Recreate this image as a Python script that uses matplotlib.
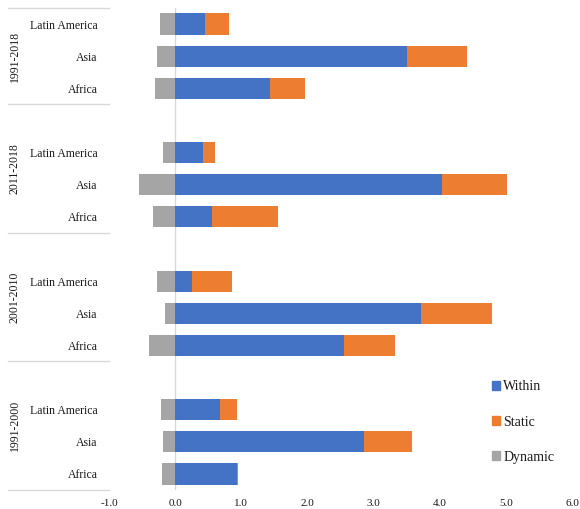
import matplotlib
matplotlib.use("Agg")
import matplotlib.pyplot as plt
import matplotlib.transforms as mtransforms
from matplotlib.patches import Patch
import numpy as np

plt.rcParams['font.family'] = ['Liberation Serif', 'DejaVu Serif']

periods = ["1991-2000", "2001-2010", "2011-2018", "1991-2018"]
regions = ["Africa", "Asia", "Latin America"]

# values per period, order: Africa, Asia, Latin America
within = {
    "1991-2000": [0.94, 2.86, 0.68],
    "2001-2010": [2.55, 3.71, 0.26],
    "2011-2018": [0.55, 4.03, 0.42],
    "1991-2018": [1.43, 3.51, 0.45],
}
static = {
    "1991-2000": [0.01, 0.72, 0.26],
    "2001-2010": [0.77, 1.08, 0.60],
    "2011-2018": [1.01, 0.99, 0.18],
    "1991-2018": [0.54, 0.91, 0.36],
}
dynamic = {
    "1991-2000": [-0.20, -0.19, -0.21],
    "2001-2010": [-0.39, -0.16, -0.28],
    "2011-2018": [-0.34, -0.54, -0.19],
    "1991-2018": [-0.31, -0.28, -0.23],
}
xticks = [-1, 0, 1, 2, 3, 4, 5, 6]

c_within = "#4472C4"
c_static = "#ED7D31"
c_dynamic = "#A5A5A5"
txt_color = "#1a1a1a"

W, H = 580, 509
fig = plt.figure(figsize=(W / 100, H / 100), dpi=100)
ax = fig.add_axes([109 / W, 19 / H, 463 / W, 482 / H])

ypos, labels, w_vals, s_vals, d_vals = [], [], [], [], []
group_spans = []
row = 0
for gi, p in enumerate(periods):
    start = row
    for ri, r in enumerate(regions):
        ypos.append(row)
        labels.append(r)
        w_vals.append(within[p][ri])
        s_vals.append(static[p][ri])
        d_vals.append(dynamic[p][ri])
        row += 1
    if gi < len(periods) - 1:
        row += 1  # blank gap row above group
    group_spans.append((start - 0.5, row - 0.5))

ypos = np.array(ypos)
w_vals = np.array(w_vals)
s_vals = np.array(s_vals)
d_vals = np.array(d_vals)
bh = 0.66

ax.barh(ypos, w_vals, height=bh, color=c_within, label="Within", zorder=2)
ax.barh(ypos, s_vals, left=w_vals, height=bh, color=c_static, label="Static", zorder=2)
ax.barh(ypos, d_vals, height=bh, color=c_dynamic, label="Dynamic", zorder=2)

ax.set_xlim(-1, 6)
ax.set_ylim(-0.5, 14.5)
ax.set_xticks(xticks)
ax.set_xticklabels([f"{v:.1f}" for v in xticks], fontsize=8, color=txt_color)
ax.set_yticks(ypos)
ax.set_yticklabels(labels, fontsize=8.5, color=txt_color)
ax.tick_params(axis="both", length=0)
ax.tick_params(axis="y", pad=8)
ax.tick_params(axis="x", pad=6.5)
for s in ax.spines.values():
    s.set_visible(False)

ax.axvline(0, color="#D9D9D9", lw=1, zorder=1, ymin=0, ymax=1)

trans = mtransforms.blended_transform_factory(ax.transAxes, ax.transData)
x0 = (8 - 109) / 463
bounds = [-0.5] + [g[1] for g in group_spans]
for b in bounds:
    ax.plot([x0, 0], [b, b], color="#D9D9D9", lw=1, transform=trans, clip_on=False)
for p, (a, b) in zip(periods, group_spans):
    ax.text((15 - 109) / 463, (a + b) / 2, p, rotation=90, ha="center", va="center",
            fontsize=8.5, color=txt_color, transform=trans)

handles = [Patch(color=c_within), Patch(color=c_static), Patch(color=c_dynamic)]
fig.legend(handles, ["Within", "Static", "Dynamic"], loc="center left",
           bbox_to_anchor=(492 / W, (H - 422) / H), frameon=False, fontsize=10,
           handlelength=0.6, handleheight=0.6, handletextpad=0.2,
           labelspacing=1.6, borderpad=0, borderaxespad=0, labelcolor=txt_color)

fig.savefig("out.png", dpi=100)
